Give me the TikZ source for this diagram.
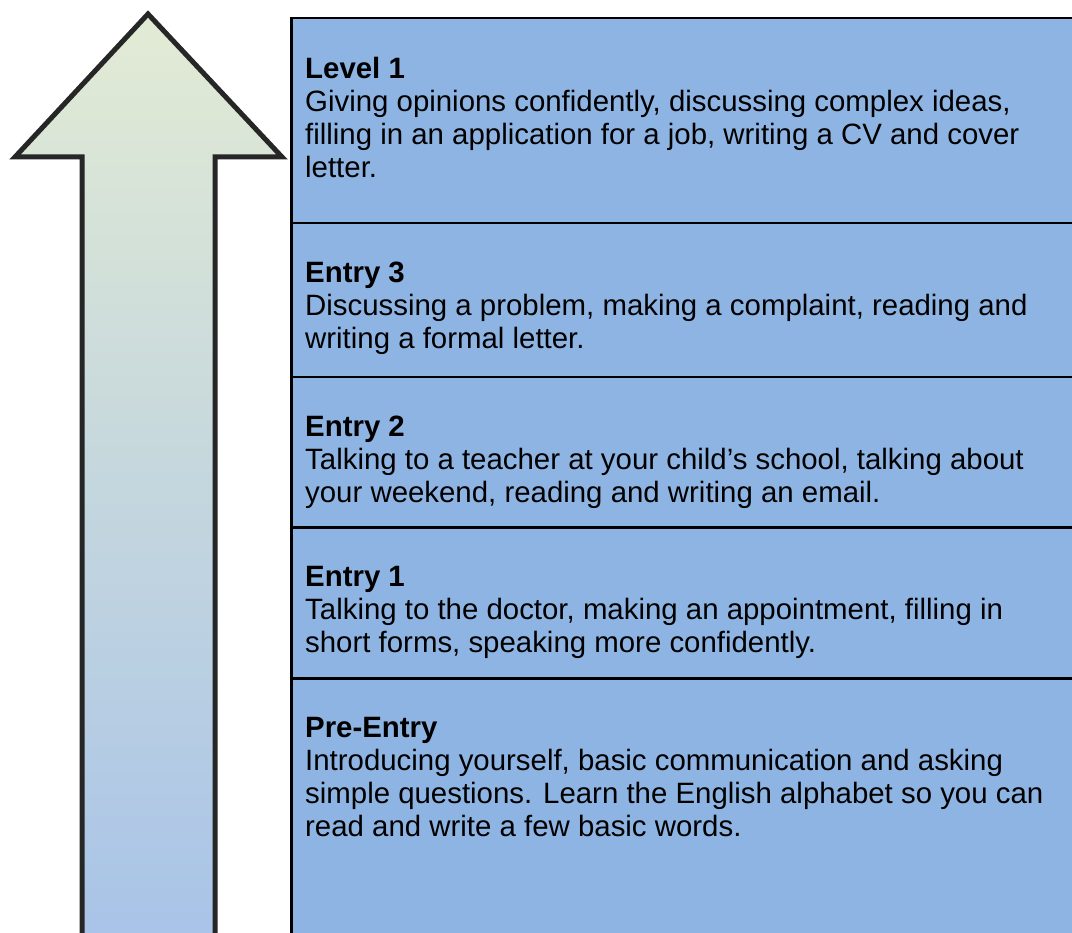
\documentclass[tikz,border=0pt]{standalone}
\usepackage{fontspec}
\setmainfont{Liberation Sans}
\usetikzlibrary{positioning}

\definecolor{rowblue}{HTML}{8EB4E3}
\definecolor{arrowtop}{HTML}{E2EBD4}
\definecolor{arrowbot}{HTML}{A8C3E8}
\definecolor{arrowline}{HTML}{262626}

\begin{document}
\begin{tikzpicture}[x=1pt, y=-1pt,
	row/.style={draw=black, line width=2.5pt, fill=rowblue, anchor=north west, minimum width=800pt, inner sep=0pt},
	txt/.style={align=left, inner sep=0pt, font=\fontsize{29.4}{33}\selectfont}]
	\useasboundingbox (0,0) rectangle (1072,933);
	\clip (0,0) rectangle (1072,933);
	
	% levels, from the top down
	\node[row, minimum height=205pt] (r1) at (290,17) {};
	\node[row, minimum height=154pt] (r2) at (290,222) {};
	\node[row, minimum height=150pt] (r3) at (290,376) {};
	\node[row, minimum height=151pt] (r4) at (290,526) {};
	\node[row, minimum height=300pt] (r5) at (290,677) {};
	
	\node[txt, below right=40pt and 15pt of r1.north west] (l1) {\textbf{Level 1}\\Giving opinions confidently, discussing complex ideas,\\filling in an application for a job, writing a CV and cover\\letter.};
	\node[txt, below right=40pt and 15pt of r2.north west] (e3) {\textbf{Entry 3}\\Discussing a problem, making a complaint, reading and\\writing a formal letter.};
	\node[txt, below right=40pt and 15pt of r3.north west] (e2) {\textbf{Entry 2}\\Talking to a teacher at your child’s school, talking about\\your weekend, reading and writing an email.};
	\node[txt, below right=40pt and 15pt of r4.north west] (e1) {\textbf{Entry 1}\\Talking to the doctor, making an appointment, filling in\\short forms, speaking more confidently.};
	\node[txt, below right=40pt and 15pt of r5.north west] (pre) {\textbf{Pre-Entry}\\Introducing yourself, basic communication and asking\\simple questions. Learn the English alphabet so you can\\read and write a few basic words.};
	
	% the arrow
	\draw[arrowline, line width=5pt, line join=miter, top color=arrowtop, bottom color=arrowbot]
		(148,14) -- (282,157) -- (215,157) -- (215,945) -- (82,945) -- (82,157) -- (15,157) -- cycle;
\end{tikzpicture}
\end{document}
